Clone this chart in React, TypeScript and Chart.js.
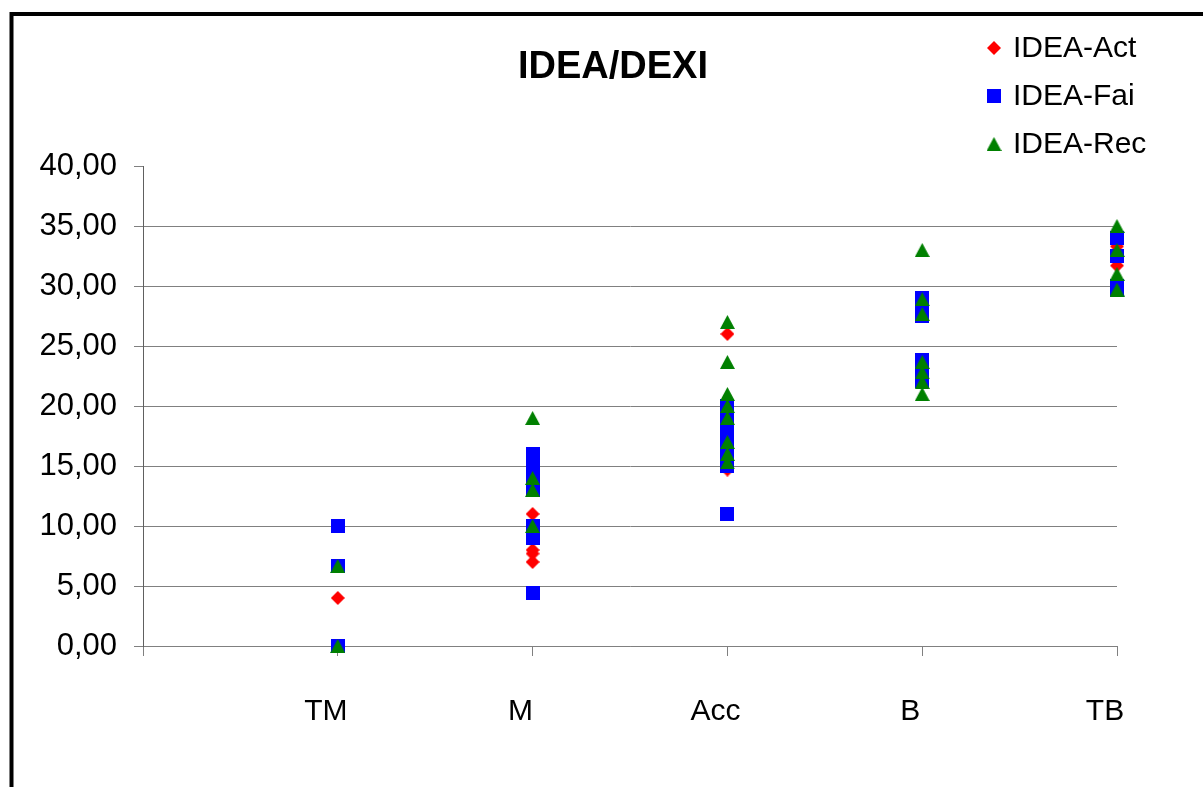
import React, { useEffect, useRef } from 'react';
import { Chart, registerables } from 'chart.js';

Chart.register(...registerables);

const W = 1203;
const H = 787;

const titleText = 'IDEA/DEXI';
const categories = ['TM', 'M', 'Acc', 'B', 'TB'];
const seriesNames = ['IDEA-Act', 'IDEA-Fai', 'IDEA-Rec'];
const seriesColors = ['#FF0000', '#0000FF', '#008000'];
const yTickValues = [0, 5, 10, 15, 20, 25, 30, 35, 40];

// values per category (TM, M, Acc, B, TB)
const actValues: number[][] = [
  [4],
  [11, 8, 7.7, 7],
  [26, 14.7],
  [28.5, 23],
  [33.3, 31.7],
];
const faiValues: number[][] = [
  [10, 6.67, 0],
  [16, 15.3, 14.6, 13.8, 13, 10, 9, 4.4],
  [20, 19, 18, 17, 16, 15, 11],
  [29, 28.2, 27.5, 23.8, 23, 22.1],
  [34, 32.5, 30, 29.7],
];
const recValues: number[][] = [
  [6.67, 0],
  [19, 14, 13, 10],
  [27, 23.67, 21, 20, 19, 17, 16, 15.3],
  [33, 28.9, 27.67, 23.67, 22.8, 22, 21],
  [35, 33, 31, 29.7],
];

const FONT = 'Arial, "Liberation Sans", sans-serif';

function makeMarker(kind: 'diamond' | 'square' | 'triangle', color: string): HTMLCanvasElement {
  const c = document.createElement('canvas');
  const w = kind === 'triangle' ? 15 : 14;
  const h = 14;
  c.width = w;
  c.height = h;
  const g = c.getContext('2d')!;
  g.fillStyle = color;
  g.beginPath();
  if (kind === 'square') {
    g.rect(0, 0, w, h);
  } else if (kind === 'diamond') {
    g.moveTo(w / 2, 0);
    g.lineTo(w, h / 2);
    g.lineTo(w / 2, h);
    g.lineTo(0, h / 2);
    g.closePath();
  } else {
    g.moveTo(w / 2, 0);
    g.lineTo(w, h);
    g.lineTo(0, h);
    g.closePath();
  }
  g.fill();
  return c;
}

function toPoints(values: number[][]) {
  const pts: { x: number; y: number }[] = [];
  values.forEach((vals, i) => vals.forEach((v) => pts.push({ x: i + 1, y: v })));
  return pts;
}

export default function App() {
  const ref = useRef<HTMLCanvasElement | null>(null);

  useEffect(() => {
    if (!ref.current) return;
    const markers = [
      makeMarker('diamond', seriesColors[0]),
      makeMarker('square', seriesColors[1]),
      makeMarker('triangle', seriesColors[2]),
    ];

    const decor = {
      id: 'decor',
      beforeDraw(chart: any) {
        const ctx = chart.ctx;
        ctx.save();
        ctx.fillStyle = '#ffffff';
        ctx.fillRect(0, 0, chart.width, chart.height);
        ctx.restore();
      },
      afterDraw(chart: any) {
        const ctx = chart.ctx as CanvasRenderingContext2D;
        ctx.save();
        // frame
        ctx.strokeStyle = '#000000';
        ctx.lineWidth = 4;
        ctx.beginPath();
        ctx.moveTo(11.5, H + 5);
        ctx.lineTo(11.5, 14);
        ctx.lineTo(W + 5, 14);
        ctx.stroke();
        // title
        ctx.fillStyle = '#000000';
        ctx.font = `bold 38px ${FONT}`;
        ctx.textAlign = 'center';
        ctx.textBaseline = 'alphabetic';
        ctx.fillText(titleText, 613, 78);
        // legend
        ctx.font = `30px ${FONT}`;
        ctx.textAlign = 'left';
        const rowY = [48, 96, 144];
        seriesNames.forEach((name, i) => {
          const m = markers[i];
          ctx.drawImage(m, 994 - m.width / 2, rowY[i] - m.height / 2);
          ctx.fillStyle = '#000000';
          ctx.textBaseline = 'middle';
          ctx.fillText(name, 1013, rowY[i] + 1);
        });
        ctx.restore();
      },
    };

    const chart = new Chart(ref.current, {
      type: 'scatter',
      data: {
        datasets: [
          { label: seriesNames[0], data: toPoints(actValues), pointStyle: markers[0] as any, pointRadius: 7, order: 3, clip: false as any },
          { label: seriesNames[1], data: toPoints(faiValues), pointStyle: markers[1] as any, pointRadius: 7, order: 2, clip: false as any },
          { label: seriesNames[2], data: toPoints(recValues), pointStyle: markers[2] as any, pointRadius: 7, order: 1, clip: false as any },
        ],
      },
      options: {
        responsive: false,
        animation: false,
        events: [],
        layout: { padding: { top: 166, right: 86, left: 0, bottom: 0 } },
        plugins: {
          legend: { display: false },
          title: { display: false },
          tooltip: { enabled: false },
        },
        scales: {
          x: {
            type: 'linear',
            min: 0,
            max: 5,
            afterFit: (s: any) => { s.height = H - 646; },
            afterBuildTicks: (s: any) => { s.ticks = [0, 1, 2, 3, 4, 5].map((v) => ({ value: v })); },
            ticks: {
              stepSize: 1,
              color: '#000000',
              font: { family: FONT, size: 30 },
              padding: 38,
              labelOffset: -12,
              maxRotation: 0,
              autoSkip: false,
              callback: (v: any) => (v >= 1 && v <= categories.length ? categories[v - 1] : ''),
            },
            grid: { drawOnChartArea: false, drawTicks: true, tickLength: 10, color: '#808080', lineWidth: 1 },
            border: { display: true, color: '#808080', width: 1 },
          },
          y: {
            type: 'linear',
            min: 0,
            max: 40,
            afterFit: (s: any) => { s.width = 143; },
            afterBuildTicks: (s: any) => { s.ticks = yTickValues.map((v) => ({ value: v })); },
            ticks: {
              stepSize: 5,
              color: '#000000',
              font: { family: FONT, size: 31 },
              padding: 17,
              callback: (v: any) => Number(v).toFixed(2).replace('.', ','),
            },
            grid: {
              color: (c: any) => (c.tick && c.tick.value === 40 ? 'rgba(0,0,0,0)' : '#808080'),
              tickColor: '#808080',
              tickLength: 9,
              lineWidth: 1,
            },
            border: { display: true, color: '#606060', width: 1 },
          },
        },
      },
      plugins: [decor],
    });
    return () => chart.destroy();
  }, []);

  return (
    <div style={{ position: 'absolute', left: 0, top: 0, width: W, height: H, background: '#fff', overflow: 'hidden' }}>
      <canvas ref={ref} width={W} height={H} style={{ display: 'block', width: W, height: H }} />
    </div>
  );
}
